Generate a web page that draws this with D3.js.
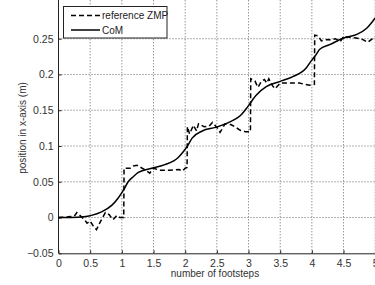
<!DOCTYPE html>
<html>
<head>
<meta charset="utf-8">
<script src="https://cdn.jsdelivr.net/npm/d3@7"></script>
<style>
body { margin: 0; background: #fff; }
text { font-family: Arial, "Liberation Sans", sans-serif; }
</style>
</head>
<body>
<div class="chart"></div>
<script>
// values
const comX = [0, 0.2, 0.4, 0.52, 0.68, 0.84, 0.94, 1.03, 1.1, 1.18, 1.26, 1.47, 1.68, 1.89, 1.97, 2.05, 2.11, 2.27, 2.48, 2.69, 2.9, 2.98, 3.06, 3.12, 3.28, 3.49, 3.7, 3.91, 3.99, 4.07, 4.12, 4.29, 4.5, 4.71, 4.87, 5.0]
const comY = [0, 0, 0.001, 0.003, 0.008, 0.017, 0.027, 0.039, 0.05, 0.057, 0.063, 0.069, 0.074, 0.084, 0.092, 0.102, 0.111, 0.121, 0.126, 0.133, 0.145, 0.154, 0.164, 0.171, 0.183, 0.19, 0.197, 0.209, 0.219, 0.228, 0.235, 0.242, 0.251, 0.256, 0.265, 0.279]

const zmpX = [0, 0.15, 0.25, 0.29, 0.35, 0.42, 0.45, 0.5, 0.55, 0.6, 0.66, 0.74, 0.8, 0.86, 0.92, 0.97, 1.03,
    1.035, 1.13, 1.18, 1.24, 1.36, 1.44, 1.5, 1.6, 1.75, 1.9, 1.96, 2.0, 2.03,
    2.035, 2.07, 2.13, 2.18, 2.21, 2.3, 2.38, 2.43, 2.5, 2.55, 2.63, 2.72, 2.8, 2.87, 2.95, 3.03,
    3.035, 3.1, 3.15, 3.2, 3.25, 3.29, 3.32, 3.38, 3.42, 3.5, 3.65, 3.8, 3.9, 3.97, 4.04,
    4.045, 4.1, 4.15, 4.25, 4.3, 4.37, 4.45, 4.5, 4.6, 4.7, 4.8, 4.88, 5.0]
const zmpY = [0, 0.001, 0.002, 0.007, 0.002, -0.004, -0.008, -0.005, -0.012, -0.017, -0.006, 0.007, 0.004, -0.003, 0.003, 0, 0,
    0.069, 0.069, 0.072, 0.073, 0.067, 0.062, 0.069, 0.066, 0.066, 0.067, 0.065, 0.069, 0.07,
    0.127, 0.117, 0.129, 0.121, 0.131, 0.127, 0.128, 0.133, 0.126, 0.119, 0.131, 0.13, 0.126, 0.122, 0.12, 0.12,
    0.194, 0.191, 0.182, 0.19, 0.193, 0.188, 0.194, 0.184, 0.18, 0.188, 0.188, 0.188, 0.186, 0.185, 0.186,
    0.255, 0.254, 0.247, 0.249, 0.248, 0.25, 0.246, 0.253, 0.252, 0.251, 0.249, 0.245, 0.253]

const xTicks = [0, 0.5, 1, 1.5, 2, 2.5, 3, 3.5, 4, 4.5, 5]
const yTicks = [-0.05, 0, 0.05, 0.1, 0.15, 0.2, 0.25]
const legendLabels = ['reference ZMP', 'CoM']

const width = 375, height = 285
const left = 58.5, right = 375.2, bottom = 253.3, plotTop = -10

const svg = d3.select('.chart').append('svg')
    .attr('width', width)
    .attr('height', height)

const x = d3.scaleLinear().domain([0, 5]).range([left, right])
const y = d3.scaleLinear().domain([-0.05, 0.25]).range([bottom, 38.7])

// grid
svg.append('g').selectAll('line').data(xTicks.slice(1)).join('line')
    .attr('x1', d => x(d)).attr('x2', d => x(d))
    .attr('y1', bottom).attr('y2', plotTop)
    .attr('stroke', '#666').attr('stroke-width', 1)
    .attr('stroke-dasharray', '1,2')
svg.append('g').selectAll('line').data(yTicks.slice(1)).join('line')
    .attr('x1', left).attr('x2', right)
    .attr('y1', d => y(d)).attr('y2', d => y(d))
    .attr('stroke', '#666').attr('stroke-width', 1)
    .attr('stroke-dasharray', '1,2')

// axes, ticks inside
const xAxis = svg.append('g')
    .attr('transform', 'translate(0,' + bottom + ')')
    .call(d3.axisBottom(x).tickValues(xTicks).tickSizeInner(-3).tickSizeOuter(0).tickPadding(6)
        .tickFormat(d3.format('')))
const yAxis = svg.append('g')
    .attr('transform', 'translate(' + left + ',0)')
    .call(d3.axisLeft(y).tickValues(yTicks).tickSizeInner(-3).tickSizeOuter(0).tickPadding(5)
        .tickFormat(d => d == 0 ? '0' : d3.format('')(+d.toFixed(2))))
yAxis.select('.domain').attr('d', 'M0,' + bottom + 'V' + plotTop)
for (const ax of [xAxis, yAxis]) {
    ax.select('.domain').attr('stroke', '#222')
    ax.selectAll('.tick line').attr('stroke', '#222')
    ax.selectAll('text').attr('font-size', 10.5).attr('fill', '#333')
        .attr('font-family', 'Arial, "Liberation Sans", sans-serif')
}

const line = d3.line().x(d => x(d[0])).y(d => y(d[1]))

const zmp = zmpX.map((v, i) => [v, zmpY[i]])
const com = comX.map((v, i) => [v, comY[i]])

svg.append('path').datum(zmp)
    .attr('d', line)
    .attr('fill', 'none').attr('stroke', '#000').attr('stroke-width', 1.5)
    .attr('stroke-dasharray', '5,3')
svg.append('path').datum(com)
    .attr('d', d3.line().x(d => x(d[0])).y(d => y(d[1])).curve(d3.curveMonotoneX))
    .attr('fill', 'none').attr('stroke', '#000').attr('stroke-width', 1.5)

// legend
const lg = svg.append('g')
lg.append('rect').attr('x', 63.5).attr('y', 6.5).attr('width', 103.5).attr('height', 31.5)
    .attr('fill', '#fff').attr('stroke', '#222').attr('stroke-width', 1)
legendLabels.forEach((t, i) => {
    const yy = 15.5 + i * 14.5
    lg.append('line').attr('x1', 71).attr('x2', 100).attr('y1', yy).attr('y2', yy)
        .attr('stroke', '#000').attr('stroke-width', 1.5)
        .attr('stroke-dasharray', i == 0 ? '5,3' : null)
    lg.append('text').attr('x', 102).attr('y', yy + 3.5)
        .attr('font-size', 10).attr('fill', '#222').text(t)
})

// axis labels
svg.append('text').attr('x', 215).attr('y', 277)
    .attr('text-anchor', 'middle').attr('font-size', 10).attr('fill', '#333')
    .text('number of footsteps')
svg.append('text').attr('transform', 'translate(26,128) rotate(-90)')
    .attr('text-anchor', 'middle').attr('font-size', 10).attr('fill', '#333')
    .text('position in x-axis (m)')
</script>
</body>
</html>
